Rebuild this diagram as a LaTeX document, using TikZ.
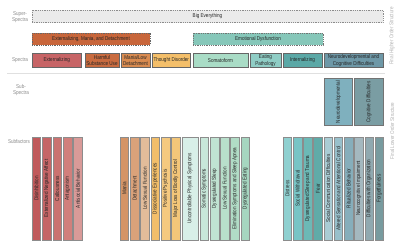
\documentclass[tikz,border=0pt]{standalone}
\usepackage{fontspec}
\setmainfont{Liberation Sans}
\newfontfamily\nf[FakeStretch=0.82]{Liberation Sans}
\definecolor{cbig}{HTML}{EBEBEB}
\definecolor{cemd}{HTML}{C8663B}
\definecolor{cemo}{HTML}{86C7B9}
\definecolor{cext}{HTML}{C76466}
\definecolor{chsu}{HTML}{C96B3F}
\definecolor{cmld}{HTML}{D98B50}
\definecolor{cthd}{HTML}{F4BF6A}
\definecolor{csom}{HTML}{A9DCC6}
\definecolor{ceat}{HTML}{8FCDC5}
\definecolor{cint}{HTML}{5BA8A6}
\definecolor{cneu}{HTML}{6E98A7}
\definecolor{cssn}{HTML}{7FB0BE}
\definecolor{cssc}{HTML}{7A9DA3}
\definecolor{r1}{HTML}{C05A5C}\definecolor{r2}{HTML}{C56566}\definecolor{r3}{HTML}{CA7270}
\definecolor{r4}{HTML}{D17F7C}\definecolor{r5}{HTML}{D99A98}
\definecolor{o1}{HTML}{D49466}\definecolor{o2}{HTML}{DAA27A}\definecolor{o3}{HTML}{E2BC9A}
\definecolor{o4}{HTML}{F2BE6A}\definecolor{o5}{HTML}{F5C97F}\definecolor{o6}{HTML}{F3C679}
\definecolor{g0}{HTML}{D8EFE8}\definecolor{g1}{HTML}{C8E7D9}\definecolor{g2}{HTML}{C0E3D2}
\definecolor{g3}{HTML}{B8DFCB}\definecolor{g4}{HTML}{B1DCC6}\definecolor{g5}{HTML}{A6D6C0}
\definecolor{t1}{HTML}{8FD0D0}\definecolor{t2}{HTML}{78C4C5}\definecolor{t3}{HTML}{6CB9B6}
\definecolor{t4}{HTML}{60ABA8}
\definecolor{n1}{HTML}{A9CCD4}\definecolor{n2}{HTML}{98C0CB}\definecolor{n3}{HTML}{86AEBB}
\definecolor{n4}{HTML}{A4B8BF}\definecolor{n5}{HTML}{90A9B0}\definecolor{n6}{HTML}{789B9F}
\begin{document}
\begin{tikzpicture}[x=1pt,y=-1pt,
  txt/.style={font=\nf\fontsize{5.6}{6.2}\selectfont, text=black!85},
  bx/.style={txt, draw=black!60, line width=0.6pt, inner sep=0pt, align=center},
  barbox/.style={bx, draw=black!45, rotate=90},
  side/.style={font=\nf\fontsize{5.6}{6.2}\selectfont, text=black!45, align=center, inner sep=0pt},
  rside/.style={side, text=black!30, rotate=90}
]
\useasboundingbox (0,0) rectangle (400,247);
\fill[white] (0,0) rectangle (400,247);

\newcommand\mybox[8][]{%
  \pgfmathsetmacro\bw{#5-#3}\pgfmathsetmacro\bh{#6-#4}%
  \pgfmathsetmacro\bcx{(#3+#5)/2}\pgfmathsetmacro\bcy{(#4+#6)/2}%
  \node[bx, fill=#7, minimum width=\bw pt, minimum height=\bh pt, #1] (#2) at (\bcx,\bcy) {#8};}
\newcommand\mybar[5]{%
  \pgfmathsetmacro\bw{#3-#2}%
  \pgfmathsetmacro\bcx{(#2+#3)/2}%
  \node[barbox, fill=#4, minimum width=103pt, minimum height=\bw pt] (#1) at (\bcx,188.5) {#5};}

% side labels
\node[side] (lsuper) at (20,17) {Super-\\Spectra};
\node[side] (lspec) at (20,60.5) {Spectra};
\node[side] (lsub) at (21,90) {Sub-\\Spectra};
\node[side] (lsubf) at (19,141) {Subfactors};
\node[rside] (rhigh) at (392,36) {Final Higher Order Structure};
\node[rside] (rlow) at (392,131) {Final Lower Order Structure};

% separator
\coordinate (sepL) at (7,73);
\coordinate (sepR) at (385,73);
\draw[black!12, line width=0.8pt] (sepL) -- (sepR);

% super spectra
\mybox[draw=black!45, dash pattern=on 0.9pt off 0.9pt]{big}{32}{10}{383}{22.5}{cbig}{Big Everything}
\mybox[draw=black!60, dash pattern=on 1pt off 0.8pt]{emd}{32}{33}{150}{45}{cemd}{Externalizing, Mania, and Detachment}
\mybox[draw=black!55, dash pattern=on 1pt off 0.8pt]{emo}{193}{33}{323}{45}{cemo}{Emotional Dysfunction}

% spectra
\mybox{ext}{32}{53.5}{81.5}{67.5}{cext}{Externalizing}
\mybox{hsu}{85}{53.5}{119}{67.5}{chsu}{Harmful\\Substance Use}
\mybox{mld}{121}{53.5}{150}{67.5}{cmld}{Mania/Low\\Detachment}
\mybox{thd}{152}{53.5}{190.5}{67.5}{cthd}{Thought Disorder}
\mybox{som}{193}{53.5}{248}{67.5}{csom}{Somatoform}
\mybox{eat}{250}{53.5}{281}{67.5}{ceat}{Eating\\Pathology}
\mybox{int}{283}{53.5}{322}{67.5}{cint}{Internalizing}
\mybox{neu}{324}{53.5}{383}{67.5}{cneu}{Neurodevelopmental and\\Cognitive Difficulties}

% sub-spectra
\node[barbox, draw=black!55, fill=cssn, minimum width=47pt, minimum height=28.5pt] (ssn) at (338.5,102) {Neurodevelopmental};
\node[barbox, draw=black!55, fill=cssc, minimum width=47pt, minimum height=28.5pt] (ssc) at (369,102) {Cognitive Difficulties};

% subfactors
\mybar{s1}{32}{40.6}{r1}{Disinhibition}
\mybar{s2}{42.4}{51}{r2}{Externalized Negative Affect}
\mybar{s3}{52.8}{61.4}{r3}{Callousness}
\mybar{s4}{63.2}{71.8}{r4}{Antagonism}
\mybar{s5}{73.6}{82.2}{r5}{Antisocial Behavior}

\mybar{s6}{120}{128.6}{o1}{Mania}
\mybar{s7}{130.3}{138.9}{o2}{Detachment}
\mybar{s8}{140.6}{149.2}{o3}{Low Sexual Function}
\mybar{s9}{150.9}{159.5}{o4}{Dissociative Experiences}
\mybar{s10}{161.2}{169.8}{o5}{Positive Psychosis}
\mybar{s11}{171.5}{180.1}{o6}{Major Loss of Bodily Control}

\mybar{s12}{182}{198}{g0}{Uncontrollable Physical Symptoms}
\mybar{s13}{200}{208.6}{g1}{Somatic Symptoms}
\mybar{s14}{210.2}{218.8}{g2}{Dysregulated Sleep}
\mybar{s15}{220.4}{229}{g3}{Low Sexual Function}
\mybar{s16}{230.6}{239.2}{g4}{Elimination Symptoms and Sleep Apnea}
\mybar{s17}{240.8}{249.4}{g5}{Dysregulated Eating}

\mybar{s18}{283}{291.6}{t1}{Distress}
\mybar{s19}{293.2}{301.8}{t2}{Social Withdrawal}
\mybar{s20}{303.4}{312}{t3}{Dysregulated Sleep and Trauma}
\mybar{s21}{313.6}{322.2}{t4}{Fear}

\mybar{s22}{324}{332.4}{n1}{Social Communication Difficulties}
\mybar{s23}{334.2}{342.6}{n2}{Altered Sensation and Attentional Control}
\mybar{s24}{344.4}{352.8}{n3}{Ritualized Behavior}
\mybar{s25}{354.6}{363}{n4}{Neurocognitive Impairment}
\mybar{s26}{364.8}{373.2}{n5}{Difficulties with Organization}
\mybar{s27}{375}{383.4}{n6}{Forgetfulness}
\end{tikzpicture}
\end{document}
